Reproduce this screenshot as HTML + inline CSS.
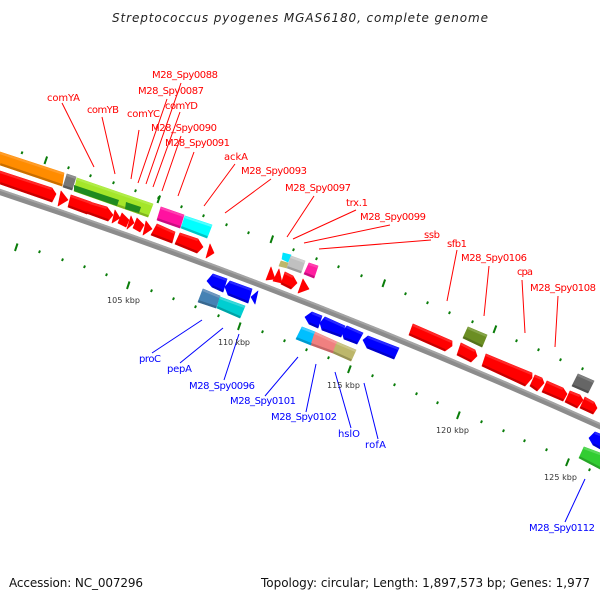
<!DOCTYPE html>
<html><head><meta charset="utf-8"><style>
html,body{margin:0;padding:0;background:#fff}
svg{display:block}
text{font-family:"DejaVu Sans","Liberation Sans",sans-serif;font-size:10px}
.r text{fill:#f00}.b text{fill:#00f}
.k text{font-size:8px;fill:#333}
.t path{fill:none;stroke-width:2.2}
polygon{stroke-width:.7;stroke-linejoin:round}
polygon[fill="#f00"]{stroke:#f00}polygon[fill="#00f"]{stroke:#00f}
polygon[fill="#ff8c00"]{stroke:#ff8c00}polygon[fill="#777"]{stroke:#777}
polygon[fill="#a4e62a"]{stroke:#a4e62a}polygon[fill="#ff12a0"]{stroke:#ff12a0}
polygon[fill="#00ffff"]{stroke:#00ffff}polygon[fill="#00e5ff"]{stroke:#00e5ff}
polygon[fill="#bdb76b"]{stroke:#bdb76b}polygon[fill="#c0c0c0"]{stroke:#c0c0c0}
polygon[fill="#ff1ea0"]{stroke:#ff1ea0}polygon[fill="#4682b4"]{stroke:#4682b4}
polygon[fill="#00ced1"]{stroke:#00ced1}polygon[fill="#00bfff"]{stroke:#00bfff}
polygon[fill="#f08080"]{stroke:#f08080}polygon[fill="#6b8e23"]{stroke:#6b8e23}
polygon[fill="#666"]{stroke:#666}polygon[fill="#32cd32"]{stroke:#32cd32}
</style></head><body>
<svg xmlns="http://www.w3.org/2000/svg" width="600" height="600" viewBox="0 0 600 600">
<path fill="none" stroke="#8c8c8c" stroke-width="6" d="M-5,190.4Q300,291 605,428.4"/>
<path fill="none" stroke="#a4a4a4" stroke-width="2" d="M-5,188.2Q300,288.8 605,426.2"/>

<polygon fill="#ff8c00" points="0,152 64,173 62,186 0,165"/>
<polygon fill="#777" points="67,174 76,177 72,190 63,187"/>
<polygon fill="#a4e62a" points="77,178 153,204 148,217 74,191"/>
<polygon fill="#ff12a0" points="161,207 184,215 180,228 157,220"/>
<polygon fill="#00ffff" points="185,216 212,225 207,238 181,228"/>
<polygon fill="#f00" points="0,171 52,188 56,194 52,202 0,184"/>
<polygon fill="#f00" points="61,191 68,200 58,206"/>
<polygon fill="#f00" points="71,195 91,202 87,214 68,207"/>
<polygon fill="#f00" points="90,202 107,207 113,215 108,221 86,213"/>
<polygon fill="#f00" points="115,210 120,218 112,223"/>
<polygon fill="#f00" points="122,213 129,220 126,227 118,223"/>
<polygon fill="#f00" points="131,216 134,223 127,229"/>
<polygon fill="#f00" points="137,218 144,225 140,232 133,228"/>
<polygon fill="#f00" points="146,221 152,229 143,235"/>
<polygon fill="#f00" points="157,224 175,232 172,243 151,235"/>
<polygon fill="#f00" points="180,233 198,239 203,247 197,253 175,244"/>
<polygon fill="#f00" points="210,244 214,253 206,258"/>

<polygon fill="#00e5ff" points="283,253 291,255 288,262 282,259"/>
<polygon fill="#bdb76b" points="281,261 288,263 287,268 279,266"/>
<polygon fill="#c0c0c0" points="291,256 305,261 301,273 287,268"/>
<polygon fill="#ff1ea0" points="309,263 318,266 314,278 304,274"/>
<polygon fill="#f00" points="271,267 275,279 266,280"/>
<polygon fill="#f00" points="279,269 282,283 273,281"/>
<polygon fill="#f00" points="285,272 293,276 297,283 291,289 281,284"/>
<polygon fill="#f00" points="303,279 309,289 298,293"/>

<polygon fill="#00f" points="213,274 227,279 223,292 212,287 207,281"/>
<polygon fill="#00f" points="230,281 252,289 248,303 228,295 225,287"/>
<polygon fill="#00f" points="258,291 255,304 251,297"/>
<polygon fill="#4682b4" points="203,289 220,296 216,308 198,302"/>
<polygon fill="#00ced1" points="220,297 245,306 240,318 217,308"/>

<polygon fill="#00f" points="312,312 322,316 318,328 309,324 305,317"/>
<polygon fill="#00f" points="325,317 345,326 341,337 322,330 320,323"/>
<polygon fill="#00f" points="347,326 363,333 357,344 344,339 342,332"/>
<polygon fill="#00f" points="368,336 399,348 394,359 367,348 363,340"/>
<polygon fill="#00bfff" points="302,327 315,332 311,345 296,339"/>
<polygon fill="#f08080" points="315,332 337,342 333,353 311,345"/>
<polygon fill="#bdb76b" points="337,342 356,350 351,361 333,353"/>

<polygon fill="#f00" points="413,324 452,341 452,346 445,351 409,335"/>
<polygon fill="#6b8e23" points="468,327 487,335 482,347 463,338"/>
<polygon fill="#f00" points="461,343 475,350 477,356 471,362 457,355"/>
<polygon fill="#f00" points="486,354 532,373 532,378 525,386 482,366"/>
<polygon fill="#f00" points="535,375 542,378 544,383 537,391 530,386"/>
<polygon fill="#f00" points="547,381 563,388 567,394 563,401 542,392"/>
<polygon fill="#f00" points="570,391 580,395 583,400 577,408 565,402"/>
<polygon fill="#f00" points="585,397 594,402 597,408 593,414 580,408"/>
<polygon fill="#666" points="578,374 594,381 588,393 572,386"/>
<polygon fill="#00f" points="589,438 595,432 606,436 602,450 593,445"/>
<polygon fill="#32cd32" points="584,447 606,455 602,470 579,458"/>

<g class="t" transform="translate(-.3,1)">
<path stroke="#ff2828" d="M0,171L52,188M71,195L91,202M90,202L107,207M157,224L175,232M180,233L198,239M285,272L293,276M413,324L452,341M461,343L475,350M486,354L532,373M535,375L542,378M547,381L563,388M570,391L580,395M585,397L594,402"/>
<path stroke="#2828ff" d="M213,274L227,279M230,281L252,289M312,312L322,316M325,317L345,326M347,326L363,333M368,336L399,348M595,432L606,436"/>
<path stroke="#ff9c28" d="M0,152L64,173"/>
<path stroke="#909090" d="M67,174L76,177"/>
<path stroke="#b0ec48" d="M77,178L153,204"/>
<path stroke="#ff40b0" d="M161,207L184,215"/>
<path stroke="#50ffff" d="M185,216L212,225"/>
<path stroke="#d0d0d0" d="M291,256L305,261"/>
<path stroke="#ff40b0" d="M309,263L318,266"/>
<path stroke="#7098c0" d="M203,289L220,296"/>
<path stroke="#38d8da" d="M220,297L245,306"/>
<path stroke="#40ccff" d="M302,327L315,332"/>
<path stroke="#f39898" d="M315,332L337,342"/>
<path stroke="#ccc68a" d="M337,342L356,350"/>
<path stroke="#85a448" d="M468,327L487,335"/>
<path stroke="#808080" d="M578,374L594,381"/>
<path stroke="#58d858" d="M584,447L606,455"/>
</g>
<g class="t" transform="translate(.3,-.8)">
<path stroke="#c80000" d="M0,184L52,202M68,207L87,214M86,213L108,221M151,235L172,243M175,244L197,253M281,284L291,289M409,335L445,351M457,355L471,362M482,366L525,386M530,386L537,391M542,392L563,401M565,402L577,408M580,408L593,414"/>
<path stroke="#0000c8" d="M212,287L223,292M228,295L248,303M309,324L318,328M322,330L341,337M344,339L357,344M367,348L394,359M593,445L602,450"/>
<path stroke="#c86e00" d="M0,165L62,186"/>
<path stroke="#5a5a5a" d="M63,187L72,190"/>
<path stroke="#80b41e" d="M74,191L148,217"/>
<path stroke="#c80e80" d="M157,220L180,228"/>
<path stroke="#00c4c4" d="M181,228L207,238"/>
<path stroke="#9a9a9a" d="M287,268L301,273"/>
<path stroke="#c80e80" d="M304,274L314,278"/>
<path stroke="#38688f" d="M198,302L216,308"/>
<path stroke="#00a2a5" d="M217,308L240,318"/>
<path stroke="#0098cc" d="M296,339L311,345"/>
<path stroke="#c46666" d="M311,345L333,353"/>
<path stroke="#989254" d="M333,353L351,361"/>
<path stroke="#55711c" d="M463,338L482,347"/>
<path stroke="#505050" d="M572,386L588,393"/>
<path stroke="#28a428" d="M579,458L602,470"/>
</g>
<polygon fill="#1f8a1f" points="74,185 119,200 117,206 74,191"/>
<polygon fill="#1f8a1f" points="126,202 141,207 139,213 125,209"/>

<path fill="none" stroke="#0a7d0a" stroke-width="2" d="M21.5,154l1,-2.5M68,169l1,-2.5M90,177l1,-2.5M113,184l1,-2.5M135,192l1,-2.5M158,199l1,-2.5M181,208l1,-2.5M203,217l1,-2.5M226,226l1,-2.5M248,234l1,-2.5M293,251l1,-2.5M316,260l1,-2.5M338,268l1,-2.5M361,277l1,-2.5M405,295l1,-2.5M427,304l1,-2.5M449,314l1,-2.5M472,323l1,-2.5M516,342l1,-2.5M538,351l1,-2.5M560,361l1,-2.5M582,370l1,-2.5
M39,253l1,-2.5M62,261l1,-2.5M84,268l1,-2.5M106,276l1,-2.5M151,292l1,-2.5M173,300l1,-2.5M195,308l1,-2.5M218,317l1,-2.5M262,333l1,-2.5M284,342l1,-2.5M306,351l1,-2.5M328,359l1,-2.5M372,377l1,-2.5M394,386l1,-2.5M416,395l1,-2.5M437,404l1,-2.5M481,423l1,-2.5M503,432l1,-2.5M524,442l1,-2.5M546,451l1,-2.5M589,471l1,-2.5
M44.5,164l2.6,-7.5M157.5,203l2.6,-7.5M270.5,243l2.6,-7.5M382.5,287l2.6,-7.5M493.5,333l2.8,-7.5M15,251l2.5,-7.5M127,289l2.5,-7.5M238,330l2.6,-7.5M348,373l2.8,-7.5M457,419l2.8,-7.5M566,466l3,-7.5"/>

<g stroke="#f00" stroke-width="1" fill="none">
<path d="M62,103L94,167M102,117L115,174M139,130L131,179M167,99L138,183M181,83L146,184M180,112L153,187M181,136L162,191M194,152L178,196M235,164L204,206M271,179L225,213M314,196L287,237M356,210L293,239M390,225L304,243M431,240L319,249M457,250L447,301M489,266L484,316M522,280L525,333M558,296L555,347"/>
</g>
<g stroke="#00f" stroke-width="1" fill="none">
<path d="M152,353L202,320M180,363L223,328M224,380L239,334M265,396L298,357M306,412L316,364M351,428L335,372M378,439L364,383M565,522L585,479"/>
</g>

<g class="r">
<text x="47" y="101" textLength="33">comYA</text>
<text x="152" y="78" textLength="66">M28_Spy0088</text>
<text x="138" y="94" textLength="66">M28_Spy0087</text>
<text x="87" y="113" textLength="32">comYB</text>
<text x="127" y="117" textLength="33">comYC</text>
<text x="165" y="109" textLength="33">comYD</text>
<text x="151" y="131" textLength="66">M28_Spy0090</text>
<text x="165" y="146" textLength="65">M28_Spy0091</text>
<text x="224" y="160" textLength="24">ackA</text>
<text x="241" y="174" textLength="66">M28_Spy0093</text>
<text x="285" y="191" textLength="66">M28_Spy0097</text>
<text x="346" y="206" textLength="22">trx.1</text>
<text x="360" y="220" textLength="66">M28_Spy0099</text>
<text x="424" y="238" textLength="16">ssb</text>
<text x="447" y="247" textLength="20">sfb1</text>
<text x="461" y="261" textLength="66">M28_Spy0106</text>
<text x="517" y="275" textLength="16">cpa</text>
<text x="530" y="291" textLength="66">M28_Spy0108</text>
</g>
<g class="b">
<text x="139" y="362" textLength="22">proC</text>
<text x="167" y="372" textLength="25">pepA</text>
<text x="189" y="389" textLength="66">M28_Spy0096</text>
<text x="230" y="404" textLength="66">M28_Spy0101</text>
<text x="271" y="420" textLength="66">M28_Spy0102</text>
<text x="338" y="437" textLength="22">hslO</text>
<text x="365" y="448" textLength="21">rofA</text>
<text x="529" y="531" textLength="66">M28_Spy0112</text>
</g>
<g class="k">
<text x="107" y="303" textLength="33">105 kbp</text>
<text x="218" y="345" textLength="32">110 kbp</text>
<text x="327" y="388" textLength="33">115 kbp</text>
<text x="436" y="433" textLength="33">120 kbp</text>
<text x="544" y="480" textLength="33">125 kbp</text>
</g>
<text x="112" y="22" textLength="376" style="font-size:12px;font-style:italic;fill:#222">Streptococcus pyogenes MGAS6180, complete genome</text>
<text x="9" y="587" textLength="134" style="font-size:12px;fill:#111">Accession: NC_007296</text>
<text x="261" y="587" textLength="329" style="font-size:12px;fill:#111">Topology: circular; Length: 1,897,573 bp; Genes: 1,977</text>
</svg>
</body></html>
